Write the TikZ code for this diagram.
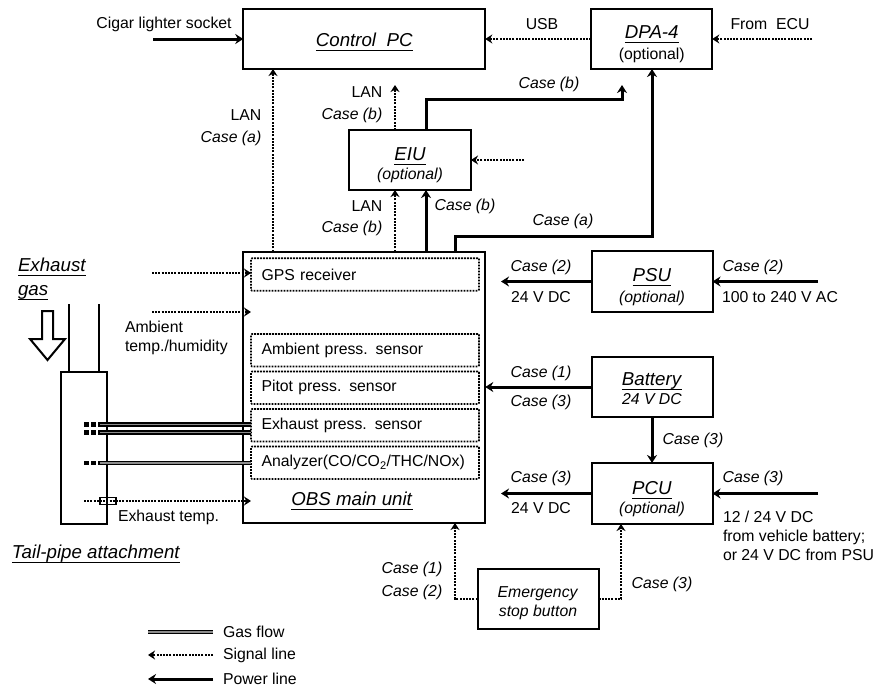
\documentclass[tikz,border=0pt]{standalone}
\usepackage{fontspec}
\setmainfont{Liberation Sans}
\usetikzlibrary{positioning, arrows.meta}

\newcommand{\ul}[1]{{\fontsize{18.7}{21}\selectfont\underline{\smash{\textit{#1}}\rule[-2pt]{0pt}{13pt}}}}
\newcommand{\drop}[1]{\rule{0pt}{#1pt}}

\tikzset{
    every node/.style={font=\fontsize{15.8}{19}\selectfont, inner sep=0pt, outer sep=0pt},
    block/.style={draw, line width=2pt, rectangle, align=center, minimum height=61pt},
    sensor/.style={draw, line width=1.7pt, dash pattern=on 1.8pt off 1.2pt, rounded corners=1pt, rectangle, minimum width=228pt, minimum height=32.5pt, text width=207pt, align=left},
    signal/.style={line width=2.4pt, dash pattern=on 2pt off 1.2pt, -{Stealth[length=7pt, width=9pt]}},
    power/.style={line width=3pt, -{Stealth[length=8pt, width=10pt]}},
    gas/.style={line width=1.8pt, double=black!45, double distance=1.2pt},
    gasstub/.style={line width=4.5pt, dash pattern=on 4.5pt off 2.5pt},
    pipe/.style={line width=2pt},
    case/.style={font=\fontsize{15.8}{19}\selectfont\itshape},
}

\begin{document}
\begin{tikzpicture}[x=1pt, y=-1pt]
    \useasboundingbox (0, 0) rectangle (877, 688);

    % main blocks
    \node (obs) at (364.25, 387.25) [block, minimum width=242pt, minimum height=271.5pt] {};
    \node (pc) [block, minimum width=242pt, minimum height=60pt, above=182.5pt of obs] {\drop{19}\ul{Control\ \ PC}};
    \node (dpa) [block, minimum width=121pt, minimum height=60pt, right=106pt of pc] {\drop{24}\ul{DPA-4}\\[2pt](optional)};
    \node (eiu) at (410, 160) [block, minimum width=122pt, minimum height=60pt] {\drop{24}\ul{EIU}\\\textit{(optional)}};
    \node (psu) at (652, 281.5) [block, minimum width=121pt] {\drop{24}\ul{PSU}\\[2pt]\textit{(optional)}};
    \node (battery) [block, minimum width=121pt, minimum height=60pt, below=45pt of psu] {\drop{17}\ul{Battery}\\\textit{24 V DC}};
    \node (pcu) [block, minimum width=121pt, below=46pt of battery] {\drop{24}\ul{PCU}\\\textit{(optional)}};
    \node (estop) at (538, 599) [block, minimum width=121pt, minimum height=60pt] {\drop{19}\textit{Emergency}\\\textit{stop button}};

    % sensors inside the main unit
    \node (gps) at (365, 274.5) [sensor] {GPS receiver};
    \node (ambient) at (365, 350.25) [sensor] {Ambient press. sensor};
    \node (pitot) [sensor, below=5pt of ambient] {Pitot press. sensor};
    \node (exhaust) [sensor, below=5pt of pitot] {Exhaust press. sensor};
    \node (analyzer) [sensor, below=5pt of exhaust] {Analyzer(CO/CO\textsubscript{2}/THC/NOx)};
    \node (obslabel) at (352, 502) {\ul{OBS main unit}};

    % tail pipe
    \node (tailpipe) at (84, 448) [draw, line width=2pt, rectangle, minimum width=46pt, minimum height=152pt] {};
    \coordinate (pipeL) at (69, 304);
    \coordinate (pipeR) at (99, 304);
    \draw [pipe] (pipeL) -- (pipeL |- tailpipe.north);
    \draw [pipe] (pipeR) -- (pipeR |- tailpipe.north);
    \draw [line width=2pt, fill=white] (42, 311) -- (53, 311) -- (53, 339) -- (65, 339) -- (47.5, 360) -- (30, 339) -- (42, 339) -- cycle;

    % gas flow
    \coordinate (gasA) at (84, 424.3);
    \coordinate (gasB) at (84, 432.7);
    \coordinate (gasC) at (84, 463);
    \coordinate (gasAin) at (100, 424.3);
    \coordinate (gasBin) at (100, 432.7);
    \coordinate (gasCin) at (100, 463);
    \draw [gasstub] (gasA) -- (gasAin);
    \draw [gasstub] (gasB) -- (gasBin);
    \draw [gasstub] (gasC) -- (gasCin);
    \draw [gas] (gasAin) -- (gasAin -| exhaust.west);
    \draw [gas] (gasBin) -- (gasBin -| exhaust.west);
    \draw [gas] (gasCin) -- (gasCin -| analyzer.west);

    % signal lines
    \coordinate (ecu) at (812, 39);
    \coordinate (gpsin) at (152, 273);
    \coordinate (tempin) at (152, 312);
    \coordinate (probein) at (84, 501);
    \coordinate (lanA) at (273, 160);
    \coordinate (lanB) at (395, 85);
    \coordinate (eiuin) at (524, 160);
    \coordinate (stopL) at (455, 599);
    \coordinate (stopR) at (621, 599);
    \draw [signal] (dpa.west) -- (pc.east);
    \draw [signal] (ecu) -- (dpa.east);
    \draw [signal] (lanA |- obs.north) -- (lanA |- pc.south);
    \draw [signal] (lanB |- eiu.north) -- (lanB);
    \draw [signal] (lanB |- obs.north) -- (lanB |- eiu.south);
    \draw [signal] (eiuin) -- (eiu.east |- eiuin);
    \draw [signal] (gpsin) -- (gps.west |- gpsin);
    \draw [signal] (tempin) -- (gps.west |- tempin);
    \draw [signal] (probein) -- (gps.west |- probein);
    \draw [signal] (estop.west |- stopL) -- (stopL) -- (stopL |- obs.south);
    \draw [signal] (estop.east |- stopR) -- (stopR) -- (stopR |- pcu.south);
    \node (probe) at (108, 501) [draw, line width=1.6pt, rectangle, minimum width=16pt, minimum height=7pt] {};

    % power lines
    \coordinate (cigar) at (153, 39);
    \coordinate (eiuup) at (426, 99);
    \coordinate (dpaup) at (622, 85);
    \coordinate (obsup) at (455, 236);
    \coordinate (dpain) at (652, 236);
    \coordinate (acin) at (818, 281.5);
    \coordinate (dcin) at (818, 493.5);
    \coordinate (psuout) at (501, 281.5);
    \coordinate (pcuout) at (501, 493.5);
    \draw [power] (cigar) -- (pc.west |- cigar);
    \draw [power] (eiuup |- obs.north) -- (eiuup |- eiu.south);
    \draw [power] (eiuup |- eiu.north) -- (eiuup) -- (eiuup -| dpaup) -- (dpaup);
    \draw [power] (obsup |- obs.north) -- (obsup) -- (dpain) -- (dpain |- dpa.south);
    \draw [power] (psu.west) -- (psuout);
    \draw [power] (acin) -- (psu.east);
    \draw [power] (battery.west) -- (obs.east |- battery.west);
    \draw [power] (battery.south) -- (pcu.north);
    \draw [power] (pcu.west) -- (pcuout);
    \draw [power] (dcin) -- (pcu.east);

    % labels
    \node (cigarlabel) at (164, 24) {Cigar lighter socket};
    \node (usblabel) at (542, 24) {USB};
    \node (eculabel) at (770, 24) {From\ \ ECU};
    \node (lana) at (246, 115) {LAN};
    \node (casea) at (231, 138) [case] {Case (a)};
    \node (lanb) at (367, 92) {LAN};
    \node (caseb) at (352, 115) [case] {Case (b)};
    \node (lanc) at (367, 206) {LAN};
    \node (casec) at (352, 228) [case] {Case (b)};
    \node (cased) at (465, 206) [case] {Case (b)};
    \node (casee) at (549, 84) [case] {Case (b)};
    \node (casef) at (563, 221) [case] {Case (a)};
    \node (psucase) at (541, 267) [case] {Case (2)};
    \node (psudc) at (541, 297) {24 V DC};
    \node (accase) at (753, 267) [case] {Case (2)};
    \node (aclabel) at (722, 297) [anchor=west] {100 to 240 V AC};
    \node (batcase) at (541, 373) [case] {Case (1)};
    \node (batcaseb) at (541, 402) [case] {Case (3)};
    \node (pcucase) at (693, 440) [case] {Case (3)};
    \node (outcase) at (541, 478) [case] {Case (3)};
    \node (outdc) at (541, 508) {24 V DC};
    \node (incase) at (753, 478) [case] {Case (3)};
    \node (inlabel) at (723, 536) [anchor=west, align=left] {12 / 24 V DC\\from vehicle battery;\\or 24 V DC from PSU};
    \node (stopa) at (412, 569) [case] {Case (1)};
    \node (stopb) at (412, 592) [case] {Case (2)};
    \node (stopc) at (662, 584) [case] {Case (3)};
    \node (gaslabel) at (18, 268) [anchor=west] {\ul{Exhaust}};
    \node (gaslabelb) at (18, 292) [anchor=west] {\ul{gas}};
    \node (templabel) at (125, 338) [anchor=west, align=left] {Ambient\\temp./humidity};
    \node (probelabel) at (118, 517) [anchor=west] {Exhaust temp.};
    \node (taillabel) at (12, 555) [anchor=west] {\ul{Tail-pipe attachment}};

    % legend
    \node (legendgas) at (223, 632) [anchor=west] {Gas flow};
    \node (legendsig) at (223, 655) [anchor=west] {Signal line};
    \node (legendpow) at (223, 679) [anchor=west] {Power line};
    \coordinate (legendend) at (148, 0);
    \coordinate (legendstart) at (213, 0);
    \draw [gas] (legendstart |- legendgas) -- (legendend |- legendgas);
    \draw [signal] (legendstart |- legendsig) -- (legendend |- legendsig);
    \draw [power] (legendstart |- legendpow) -- (legendend |- legendpow);
\end{tikzpicture}
\end{document}
